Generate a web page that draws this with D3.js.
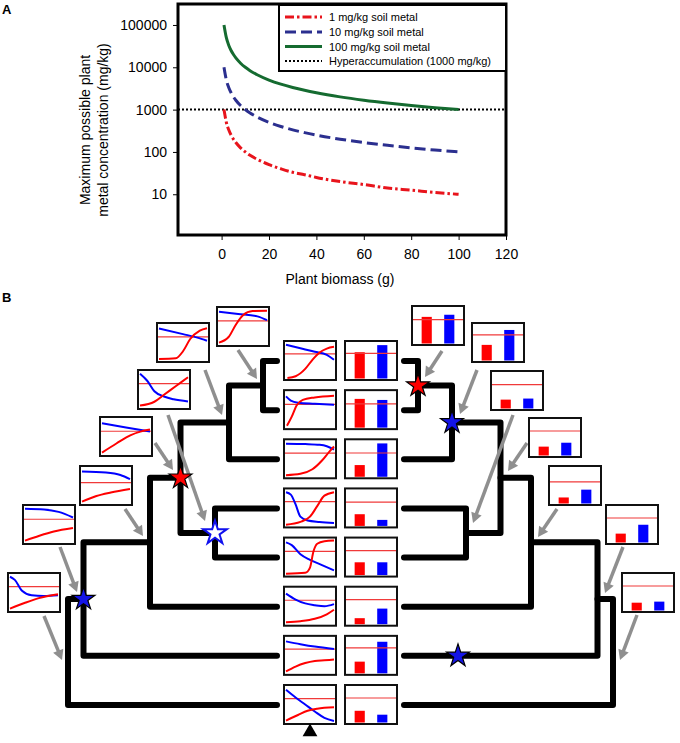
<!DOCTYPE html>
<html><head><meta charset="utf-8">
<script src="https://cdn.jsdelivr.net/npm/d3@7"></script>
<style>body{margin:0;background:#fff} svg{display:block;font-family:"Liberation Sans",Arial,sans-serif}</style>
</head><body><svg id="c" width="680" height="743"></svg>
<script>
// ---------------- Panel A data ----------------
const biomass   = [1,2,3,4,5,6,8,10,12,15,20,25,30,35,40,50,60,70,80,90,100];
const conc1mg   = [1000,500,333,250,200,167,125,100,83,67,50,40,33,29,25,20,17,14,12.5,11,10];
const conc10mg  = [10000,5000,3333,2500,2000,1667,1250,1000,833,667,500,400,333,286,250,200,167,143,125,111,100];
const conc100mg = [100000,50000,33333,25000,20000,16667,12500,10000,8333,6667,5000,4000,3333,2857,2500,2000,1667,1429,1250,1111,1000];
const hyperThreshold = 1000;
const legendLabels = ["1 mg/kg soil metal","10 mg/kg soil metal","100 mg/kg soil metal","Hyperaccumulation (1000 mg/kg)"];
const xTickValues = [0,20,40,60,80,100,120];
const yTickValues = [10,100,1000,10000,100000];

// ---------------- Panel B data ----------------
const treeNodes = [
  {id:"n12",    kids:["L0","L1"],       depth:14},
  {id:"n123",   kids:["n12","L2"],      depth:48},
  {id:"n45",    kids:["L3","L4"],       depth:62},
  {id:"n12345", kids:["n123","n45"],    depth:96.5},
  {id:"n6",     kids:["n12345","L5"],   depth:127},
  {id:"n7",     kids:["n6","L6"],       depth:193.5},
  {id:"root",   kids:["n7","L7"],       depth:209}
];
const stars = [
  {side:"L", node:"n12345", type:"red"},
  {side:"L", node:"n45",    type:"open"},
  {side:"L", node:"n7",     type:"blue"},
  {side:"R", node:"n12",    type:"red"},
  {side:"R", node:"n123",   type:"blue"},
  {side:"R", leaf:6, depth:54, type:"blue"}
];
const tipBlue = [
  [[0,.95],[.3,.85],[.6,.75],[.85,.66],[1,.52]],
  [[0,.88],[.1,.76],[.25,.7],[.6,.67],[1,.64]],
  [[0,.93],[.4,.92],[.7,.9],[.85,.86],[1,.76]],
  [[0,.95],[.1,.88],[.2,.6],[.3,.25],[.45,.14],[.7,.1],[1,.07]],
  [[0,.92],[.12,.84],[.3,.58],[.5,.42],[.75,.27],[1,.12]],
  [[0,.86],[.2,.69],[.4,.58],[.6,.53],[.8,.5],[1,.56]],
  [[0,.9],[.3,.82],[.6,.75],[1,.68]],
  [[0,.92],[.2,.7],[.4,.5],[.6,.3],[.8,.12],[1,.03]]
];
const tipRed = [
  [[.03,0],[.2,.05],[.4,.26],[.55,.52],[.7,.73],[.85,.84],[1,.89]],
  [[.02,.04],[.12,.3],[.22,.62],[.35,.78],[.6,.85],[1,.9]],
  [[0,.03],[.3,.07],[.55,.2],[.75,.45],[.9,.7],[1,.85]],
  [[0,.02],[.3,.1],[.5,.25],[.65,.55],[.8,.85],[1,.95]],
  [[0,.02],[.4,.05],[.5,.2],[.57,.65],[.65,.88],[.8,.95],[1,.97]],
  [[0,.04],[.3,.07],[.6,.14],[.85,.27],[1,.4]],
  [[0,.04],[.2,.18],[.4,.28],[.6,.34],[.8,.36],[1,.38]],
  [[0,.04],[.25,.2],[.45,.32],[.65,.38],[1,.42]]
];
const tipLineLevel = [.69,.65,.66,.68,.66,.67,.68,.67];
const tipBarRed  = [.74,.81,.33,.33,.36,.17,.33,.33];
const tipBarBlue = [.94,.78,.94,.17,.36,.44,.89,.22];
const tipBarLevel= [.71,.67,.67,.67,.69,.69,.72,.69];
const ancBlue = [
  [[0,.92],[.4,.86],[.8,.79],[1,.68]],
  [[0,.9],[.5,.74],[.8,.64],[1,.55]],
  [[0,.95],[.15,.75],[.3,.45],[.5,.3],[.7,.22],[1,.16]],
  [[0,.88],[.5,.76],[1,.64]],
  [[0,.9],[.5,.87],[.8,.8],[1,.68]],
  [[0,.95],[.4,.93],[.7,.86],[1,.7]],
  [[0,.95],[.1,.86],[.25,.55],[.45,.42],[.7,.4],[1,.42]]
];
const ancRed = [
  [[0,.04],[.2,.2],[.35,.55],[.5,.82],[.7,.94],[1,.95]],
  [[0,.03],[.35,.05],[.5,.25],[.65,.6],[.85,.84],[1,.91]],
  [[0,.04],[.3,.15],[.5,.35],[.75,.6],[1,.85]],
  [[0,.04],[.3,.3],[.6,.54],[.8,.64],[1,.7]],
  [[0,.04],[.3,.2],[.6,.3],[1,.4]],
  [[0,.04],[.3,.18],[.6,.3],[1,.4]],
  [[0,.04],[.3,.2],[.6,.34],[1,.45]]
];
const ancLineLevel = [.66,.66,.67,.65,.58,.65,.67];
const ancBarRed  = [.75,.44,.25,.25,.17,.25,.22];
const ancBarBlue = [.81,.86,.28,.36,.39,.5,.25];
const ancBarLevel= [.67,.72,.67,.69,.61,.69,.69];

// ---------------- layout (positions only) ----------------
const ancLineBoxes = [[217,307],[157,323],[138,370],[100,417],[80,466],[23,505],[8,573]];
const ancBarBoxes  = [[412,306],[472,323],[491,371],[529,418],[549,466],[606,505],[622,573]];
const ancLineArrows = [[238,350,257,379],[205,370,222,415],[168,415,205,521],[155,443,173,470],[125,509,143,536],[60,547,77,592],[44,616,62,660]];
const ancBarArrows  = [[442,351,425,377],[477,370,460,414],[513,415,473,523],[527,443,508,471],[557,509,538,537],[623,547,605,593],[637,615,620,660]];

const RED="#ff0000", BLUE="#0000ff";
const FONT = "'Liberation Sans',Arial,sans-serif";
const svg = d3.select("#c");

// ================= PANEL A =================
const A = {l:178,r:506,t:4,b:235};
const x = d3.scaleLinear().domain([-18.4,120]).range([A.l,A.r]);
const y = d3.scaleLog().domain([1.09,313000]).range([A.b,A.t]);

svg.append("text").attr("x",2).attr("y",14).attr("font-size",13).attr("font-weight","bold").text("A");
svg.append("defs").append("clipPath").attr("id","clipA").append("rect")
  .attr("x",A.l).attr("y",A.t).attr("width",A.r-A.l).attr("height",A.b-A.t);

const gx = svg.append("g").attr("transform",`translate(0,${A.b})`)
  .call(d3.axisBottom(x).tickValues(xTickValues).tickSize(5).tickPadding(9).tickFormat(d3.format("d")));
gx.select(".domain").remove();
gx.selectAll("text").attr("font-size",14).attr("font-family",FONT).attr("fill","#000");
gx.selectAll("line").attr("stroke","#000");
const gy = svg.append("g").attr("transform",`translate(${A.l},0)`)
  .call(d3.axisLeft(y).tickValues(yTickValues).tickSize(5).tickPadding(6).tickFormat(d3.format("d")));
gy.select(".domain").remove();
gy.selectAll("text").attr("font-size",14).attr("font-family",FONT).attr("fill","#000");
gy.selectAll("line").attr("stroke","#000");

svg.append("text").attr("x",340).attr("y",284).attr("text-anchor","middle").attr("font-size",14).text("Plant biomass (g)");
const yt = svg.append("text").attr("transform","translate(90,130) rotate(-90)").attr("text-anchor","middle").attr("font-size",14);
yt.append("tspan").attr("x",0).attr("y",0).text("Maximum possible plant");
yt.append("tspan").attr("x",0).attr("y",18).text("metal concentration (mg/kg)");

const pA = svg.append("g").attr("clip-path","url(#clipA)");
const line = d3.line().x(d=>x(d[0])).y(d=>y(d[1])).curve(d3.curveMonotoneX);
const styles = [
  {c:"#e8141c", dash:"9,3,2.5,3", w:3},
  {c:"#2b2f8f", dash:"11,5", w:3},
  {c:"#156b30", dash:null, w:3},
  {c:"#000", dash:"2,2", w:2}
];
pA.append("line").attr("x1",A.l).attr("x2",A.r).attr("y1",y(hyperThreshold)).attr("y2",y(hyperThreshold))
  .attr("stroke","#000").attr("stroke-width",2).attr("stroke-dasharray","2,2");
[conc1mg,conc10mg,conc100mg].forEach((s,i)=>{
  pA.append("path").datum(biomass.map((b,j)=>[b,s[j]])).attr("d",line).attr("fill","none")
    .attr("stroke",styles[i].c).attr("stroke-width",styles[i].w).attr("stroke-dasharray",styles[i].dash);
});
svg.append("rect").attr("x",A.l).attr("y",A.t).attr("width",A.r-A.l).attr("height",A.b-A.t)
  .attr("fill","none").attr("stroke","#000").attr("stroke-width",3);
const lg = svg.append("g");
lg.append("rect").attr("x",279).attr("y",5).attr("width",A.r-279).attr("height",66).attr("fill","#fff").attr("stroke","#000").attr("stroke-width",2);
const legY = [17,32,46.5,61];
legendLabels.forEach((t,i)=>{
  lg.append("line").attr("x1",285).attr("x2",322).attr("y1",legY[i]).attr("y2",legY[i])
    .attr("stroke",styles[i].c).attr("stroke-width",styles[i].w).attr("stroke-dasharray",styles[i].dash);
  lg.append("text").attr("x",329).attr("y",legY[i]+4).attr("font-size",11).text(t);
});

// ================= PANEL B =================
svg.append("text").attr("x",2).attr("y",302).attr("font-size",13).attr("font-weight","bold").text("B");
const rowY = d3.scaleLinear().domain([0,7]).range([361,705]);
const sideX = {
  L: d3.scaleLinear().domain([0,220]).range([277,57]),
  R: d3.scaleLinear().domain([0,220]).range([404,624])
};
const gT = svg.append("g");
["L","R"].forEach(side=>{
  const pos = {};
  for(let i=0;i<8;i++) pos["L"+i] = {x:sideX[side](0), y:rowY(i)};
  treeNodes.forEach(n=>{
    const a = pos[n.kids[0]], b = pos[n.kids[1]];
    const nx = sideX[side](n.depth);
    pos[n.id] = {x:nx, y:(a.y+b.y)/2};
    const p = d3.path();
    p.moveTo(a.x,a.y); p.lineTo(nx,a.y); p.lineTo(nx,b.y); p.lineTo(b.x,b.y);
    gT.append("path").attr("d",p.toString()).attr("fill","none").attr("stroke","#000")
      .attr("stroke-width",6).attr("stroke-linecap","round").attr("stroke-linejoin","round");
  });
  sideX[side].pos = pos;
});

function arrow(g,a){
  const [x1,y1,x2,y2]=a, dx=x2-x1, dy=y2-y1, L=Math.hypot(dx,dy), ux=dx/L, uy=dy/L;
  const hl=10, hw=5.5;
  const bx=x2-ux*hl, by=y2-uy*hl;
  g.append("line").attr("x1",x1).attr("y1",y1).attr("x2",bx+ux*1).attr("y2",by+uy*1)
    .attr("stroke","#8f8f8f").attr("stroke-width",3.5);
  g.append("path").attr("d",`M${x2},${y2}L${bx-uy*hw},${by+ux*hw}L${bx+uy*hw},${by-ux*hw}Z`).attr("fill","#8f8f8f");
}
const gA = svg.append("g");
ancLineArrows.forEach(a=>arrow(gA,a));
ancBarArrows.forEach(a=>arrow(gA,a));

const starPath = d3.symbol().type(d3.symbolStar);
stars.forEach(s=>{
  let px,py;
  if(s.node){ px=sideX[s.side].pos[s.node].x; py=sideX[s.side].pos[s.node].y; }
  else { px=sideX[s.side](s.depth); py=rowY(s.leaf); }
  const r = s.type==="open"?12.5:12;
  const g = svg.append("path").attr("transform",`translate(${px},${py})`)
    .attr("d",starPath.size(r*r/0.8908130915292852)());
  if(s.type==="open") g.attr("fill","#fff").attr("stroke","#1010ee").attr("stroke-width",2);
  else g.attr("fill",s.type==="red"?RED:"#1414e6").attr("stroke","#000").attr("stroke-width",1.2).attr("stroke-linejoin","miter");
});

const TW=52, TH=39;
const tx = d3.scaleLinear().domain([0,1]);
const ty = d3.scaleLinear().domain([0,1]);
function lineThumb(bx,by,blue,red,lvl){
  const g = svg.append("g").attr("transform",`translate(${bx},${by})`);
  g.append("rect").attr("width",TW).attr("height",TH).attr("fill","#fff");
  tx.range([2,TW-2]); ty.range([TH-2,2]);
  const ln = d3.line().x(d=>tx(d[0])).y(d=>ty(d[1])).curve(d3.curveMonotoneX);
  g.append("line").attr("x1",1).attr("x2",TW-1).attr("y1",ty(lvl)).attr("y2",ty(lvl)).attr("stroke","#f03a3a").attr("stroke-width",1.2);
  g.append("path").attr("d",ln(blue)).attr("fill","none").attr("stroke",BLUE).attr("stroke-width",2);
  g.append("path").attr("d",ln(red)).attr("fill","none").attr("stroke",RED).attr("stroke-width",2);
  g.append("rect").attr("width",TW).attr("height",TH).attr("fill","none").attr("stroke","#111").attr("stroke-width",2);
}
const bandX = d3.scaleBand().domain(["red","blue"]).range([4,TW-4]).paddingInner(0.55).paddingOuter(0.25);
function barThumb(bx,by,r,b,lvl){
  const g = svg.append("g").attr("transform",`translate(${bx},${by})`);
  g.append("rect").attr("width",TW).attr("height",TH).attr("fill","#fff");
  const vy = d3.scaleLinear().domain([0,1]).range([TH-1.5,2]);
  [["red",r,RED],["blue",b,BLUE]].forEach(([k,v,c])=>{
    g.append("rect").attr("x",bandX(k)).attr("width",bandX.bandwidth()).attr("y",vy(v)).attr("height",vy(0)-vy(v)).attr("fill",c);
  });
  g.append("line").attr("x1",1).attr("x2",TW-1).attr("y1",vy(lvl)).attr("y2",vy(lvl)).attr("stroke","#f03a3a").attr("stroke-width",1.2);
  g.append("rect").attr("width",TW).attr("height",TH).attr("fill","none").attr("stroke","#111").attr("stroke-width",2);
}
for(let i=0;i<8;i++){
  lineThumb(284,rowY(i)-20,tipBlue[i],tipRed[i],tipLineLevel[i]);
  barThumb(345,rowY(i)-20,tipBarRed[i],tipBarBlue[i],tipBarLevel[i]);
}
ancLineBoxes.forEach((p,i)=>lineThumb(p[0],p[1],ancBlue[i],ancRed[i],ancLineLevel[i]));
ancBarBoxes.forEach((p,i)=>barThumb(p[0],p[1],ancBarRed[i],ancBarBlue[i],ancBarLevel[i]));

svg.append("path").attr("d",d3.symbol().type(d3.symbolTriangle).size(95)()).attr("transform",`translate(310,${rowY(7)+27})`).attr("fill","#000");
</script></body></html>
